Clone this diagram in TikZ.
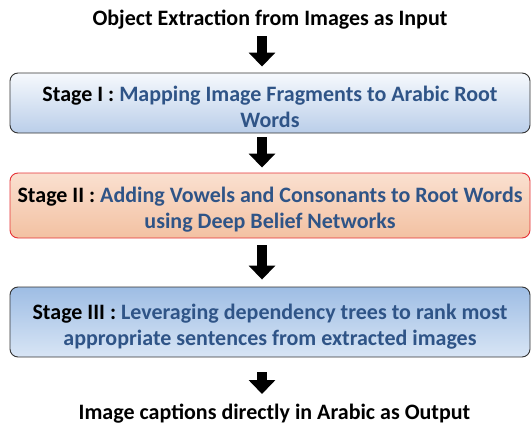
\documentclass[tikz,border=0pt]{standalone}
\usepackage{fontspec}
\setmainfont{Carlito}
\usetikzlibrary{arrows.meta}
\definecolor{stagetext}{RGB}{47,84,135}
\definecolor{oneTop}{RGB}{246,249,253}
\definecolor{oneBot}{RGB}{186,206,233}
\definecolor{twoTop}{RGB}{250,224,208}
\definecolor{twoBot}{RGB}{243,193,162}
\definecolor{twoLine}{RGB}{230,50,55}
\definecolor{threeTop}{RGB}{158,189,228}
\definecolor{threeBot}{RGB}{216,229,245}

\begin{document}
\begin{tikzpicture}[x=1pt,y=-1pt,
    every node/.style={font=\bfseries\fontsize{22}{26}\selectfont},
    stagebox/.style={rounded corners=8pt,minimum width=520pt,inner sep=2pt,text height=50pt,align=center,line width=0.9pt},
    bigarrow/.style={line width=10pt,-{Triangle[width=26pt,length=14pt]}}]
    \useasboundingbox (0,0) rectangle (532,428);
    \coordinate (axis) at (262,0);
    % input and output
    \node[anchor=base] (input) at (270,26) {Object Extraction from Images as Input};
    \node[anchor=base] (output) at (274.5,419) {Image captions directly in Arabic as Output};
    % the three stages
    \node[stagebox,draw=black!80,minimum height=60pt,top color=oneTop,bottom color=oneBot] (s1) at (270,103)
        {Stage I : \textcolor{stagetext}{Mapping Image Fragments to Arabic Root}\\\textcolor{stagetext}{Words}};
    \node[stagebox,draw=twoLine,minimum height=65pt,top color=twoTop,bottom color=twoBot] (s2) at (270,205.5)
        {Stage II : \textcolor{stagetext}{Adding Vowels and Consonants to Root Words}\\\textcolor{stagetext}{using Deep Belief Networks}};
    \node[stagebox,draw=black!80,minimum height=70pt,top color=threeTop,bottom color=threeBot] (s3) at (270,322)
        {Stage III : \textcolor{stagetext}{Leveraging dependency trees to rank most}\\\textcolor{stagetext}{appropriate sentences from extracted images}};
    % arrows
    \draw[bigarrow] ([yshift=-3pt]input.south -| axis) -- ([yshift=6pt]s1.north -| axis);
    \draw[bigarrow] ([yshift=-4pt]s1.south -| axis) -- ([yshift=5pt]s2.north -| axis);
    \draw[bigarrow] ([yshift=-7pt]s2.south -| axis) -- ([yshift=7pt]s3.north -| axis);
    \draw[bigarrow] ([yshift=-15pt]s3.south -| axis) -- ([yshift=6pt]output.north -| axis);
\end{tikzpicture}
\end{document}
